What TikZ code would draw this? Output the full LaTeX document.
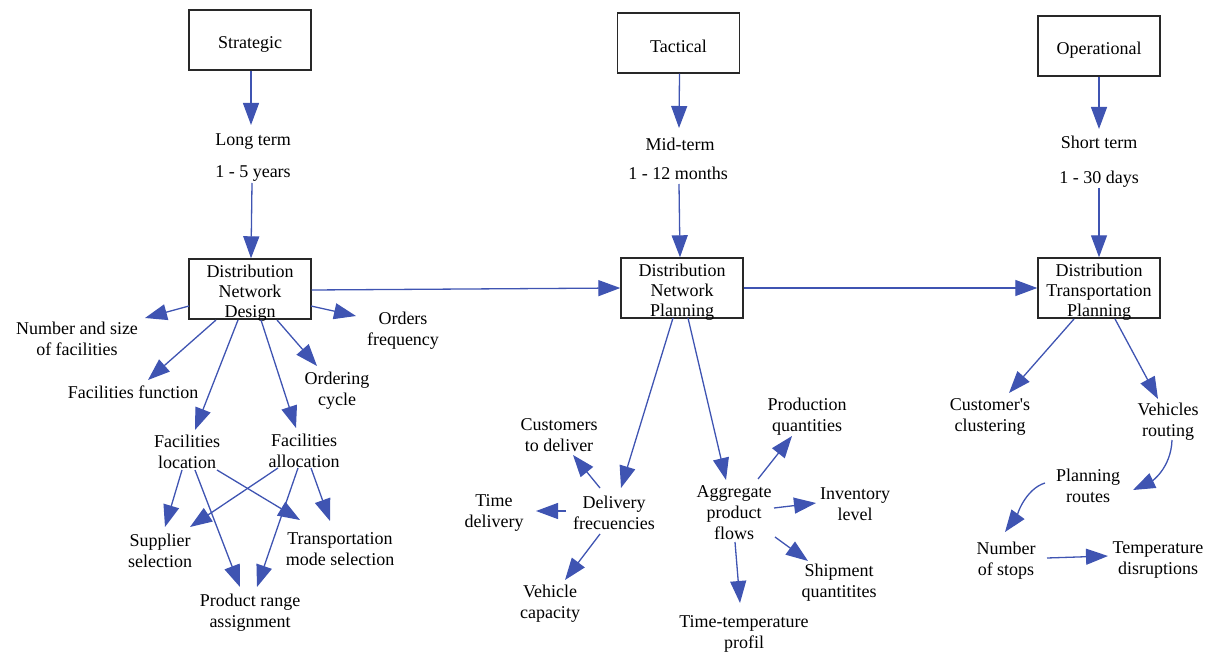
\documentclass[tikz,border=0pt]{standalone}
\usepackage{fontspec}
\setmainfont{Liberation Serif}
\usetikzlibrary{arrows.meta,calc}
\definecolor{arrblue}{RGB}{63,84,178}
\definecolor{boxgray}{RGB}{40,40,40}
\newcommand\myboxstrut{\rule{0pt}{20pt}}
\newcommand\mylblstrut{\rule{0pt}{16pt}}
\begin{document}
\begin{tikzpicture}[x=1pt,y=-1pt,
  box/.style={draw=boxgray,line width=1.4pt,minimum width=122pt,minimum height=60pt,inner xsep=0pt,inner ysep=-4pt,align=center,font=\fontsize{18}{20}\selectfont},
  lbl/.style={inner sep=0pt,align=center,font=\fontsize{18}{21}\selectfont},
  arr/.style={draw=arrblue,line width=1.3pt,-{Triangle[length=22pt,width=16pt]}}
]
\useasboundingbox (0,0) rectangle (1209,652);
% top boxes
\node[box] (strat) at (250,40) {\myboxstrut Strategic};
\node[box] (tac) at (678.5,43) {\myboxstrut Tactical};
\node[box] (op) at (1099,46) {\myboxstrut Operational};
% horizon labels
\node[lbl] (lt1) at (253,139) {\mylblstrut Long term};
\node[lbl] (lt2) at (253,171) {\mylblstrut 1 - 5 years};
\node[lbl] (mt1) at (680,143) {\mylblstrut Mid-term};
\node[lbl] (mt2) at (678,172) {\mylblstrut 1 - 12 months};
\node[lbl] (st1) at (1099,141) {\mylblstrut Short term};
\node[lbl] (st2) at (1099,177) {\mylblstrut 1 - 30 days};
% middle boxes
\node[box] (dnd) at (250,289) {\myboxstrut Distribution\\Network\\Design};
\node[box] (dnp) at (682,288) {\myboxstrut Distribution\\Network\\Planning};
\node[box] (dtp) at (1099,288) {\myboxstrut Distribution\\Transportation\\Planning};
% DND children
\node[lbl] (nsf) at (77,337) {\mylblstrut Number and size\\of facilities};
\node[lbl] (ordf) at (403,329) {\mylblstrut Orders\\frequency};
\node[lbl] (ffun) at (133,391) {\mylblstrut Facilities function};
\node[lbl] (ocyc) at (337,389) {\mylblstrut Ordering\\cycle};
\node[lbl] (floc) at (187,450) {\mylblstrut Facilities\\location};
\node[lbl] (falloc) at (304,449) {\mylblstrut Facilities\\allocation};
\node[lbl] (supp) at (160,549) {\mylblstrut Supplier\\selection};
\node[lbl] (tms) at (340,547) {\mylblstrut Transportation\\mode selection};
\node[lbl] (pra) at (250,611) {\mylblstrut Product range\\assignment};
% DNP children
\node[lbl] (delf) at (614,511) {\mylblstrut Delivery\\frecuencies};
\node[lbl] (cust) at (559,433) {\mylblstrut Customers\\to deliver};
\node[lbl] (timed) at (494,511) {\mylblstrut Time\\delivery};
\node[lbl] (vcap) at (550,602) {\mylblstrut Vehicle\\capacity};
\node[lbl] (agg) at (734,511) {\mylblstrut Aggregate\\product\\flows};
\node[lbl] (prod) at (807,415) {\mylblstrut Production\\quantities};
\node[lbl] (inv) at (855,502) {\mylblstrut Inventory\\level};
\node[lbl] (ship) at (839,581) {\mylblstrut Shipment\\quantitites};
\node[lbl] (ttp) at (744,632) {\mylblstrut Time-temperature\\profil};
% DTP children
\node[lbl] (cclu) at (990,415) {\mylblstrut Customer\textquotesingle s\\clustering};
\node[lbl] (vrout) at (1168,420) {\mylblstrut Vehicles\\routing};
\node[lbl] (plan) at (1088,484) {\mylblstrut Planning\\routes};
\node[lbl] (nst) at (1006,559) {\mylblstrut Number\\of stops};
\node[lbl] (temp) at (1158,558) {\mylblstrut Temperature\\disruptions};
% vertical flow
\draw[arr] ($(strat.south)+(1,0)$) -- ($(lt1)+(-2,-14)$);
\draw[arr] ($(lt2)+(-1,12)$) -- ($(dnd.north)+(1,0)$);
\draw[arr] ($(tac.south)+(1,0)$) -- ($(mt1)+(-1,-15)$);
\draw[arr] ($(mt2)+(1,12)$) -- ($(dnp.north)+(-2,0)$);
\draw[arr] (op.south) -- ($(st1)+(0,-12)$);
\draw[arr] ($(st2)+(0,11)$) -- (dtp.north);
% horizontal flow
\draw[arr] ($(dnd.east)+(0,1)$) -- (dnp.west);
\draw[arr] (dnp.east) -- (dtp.west);
% DND edges
\draw[arr] ($(dnd)+(-61,17)$) -- ($(nsf)+(68,-19)$);
\draw[arr] ($(dnd)+(61,17)$) -- ($(ordf)+(-47,-13)$);
\draw[arr] ($(dnd)+(-34,31)$) -- ($(ffun)+(15,-11)$);
\draw[arr] ($(dnd)+(27,31)$) -- ($(ocyc)+(-20,-23)$);
\draw[arr] ($(dnd)+(-12,31)$) -- ($(floc)+(8,-20)$);
\draw[arr] ($(dnd)+(11,31)$) -- ($(falloc)+(-8,-21)$);
\draw[arr] ($(floc)+(-5,20)$) -- ($(supp)+(5,-22)$);
\draw[arr] ($(floc)+(8,20)$) -- ($(pra)+(-10,-24)$);
\draw[arr] ($(floc)+(30,20)$) -- ($(tms)+(-40,-27)$);
\draw[arr] ($(falloc)+(-26,19)$) -- ($(supp)+(30,-22)$);
\draw[arr] ($(falloc)+(-6,19)$) -- ($(pra)+(7,-24)$);
\draw[arr] ($(falloc)+(7,19)$) -- ($(tms)+(-10,-26)$);
% DNP edges
\draw[arr] ($(dnp)+(-9,30)$) -- ($(delf)+(7,-23)$);
\draw[arr] ($(dnp)+(6,30)$) -- ($(agg)+(-8,-31)$);
\draw[arr] ($(delf)+(-14,-23)$) -- ($(cust)+(14,22)$);
\draw[arr] ($(delf)+(-48,0)$) -- ($(timed)+(42,0)$);
\draw[arr] ($(delf)+(-14,23)$) -- ($(vcap)+(15,-22)$);
\draw[arr] ($(agg)+(24,-32)$) -- ($(prod)+(-15,21)$);
\draw[arr] ($(agg)+(40,-3)$) -- ($(inv)+(-39,1)$);
\draw[arr] ($(agg)+(41,26)$) -- ($(ship)+(-31,-20)$);
\draw[arr] ($(agg)+(1,31)$) -- ($(ttp)+(-4,-29)$);
% DTP edges
\draw[arr] ($(dtp)+(-25,31)$) -- ($(cclu)+(19,-22)$);
\draw[arr] ($(dtp)+(16,31)$) -- ($(vrout)+(-10,-21)$);
\draw[arr] ($(vrout)+(4,20)$) .. controls ($(vrout)+(3,48)$) and ($(plan)+(64,-3)$) .. ($(plan)+(45,6)$);
\draw[arr] ($(plan)+(-43,-1)$) .. controls ($(plan)+(-63,5)$) and ($(nst)+(10,-42)$) .. ($(nst)+(-1,-27)$);
\draw[arr] ($(nst)+(41,-1)$) -- ($(temp)+(-50,-2)$);
\end{tikzpicture}
\end{document}
